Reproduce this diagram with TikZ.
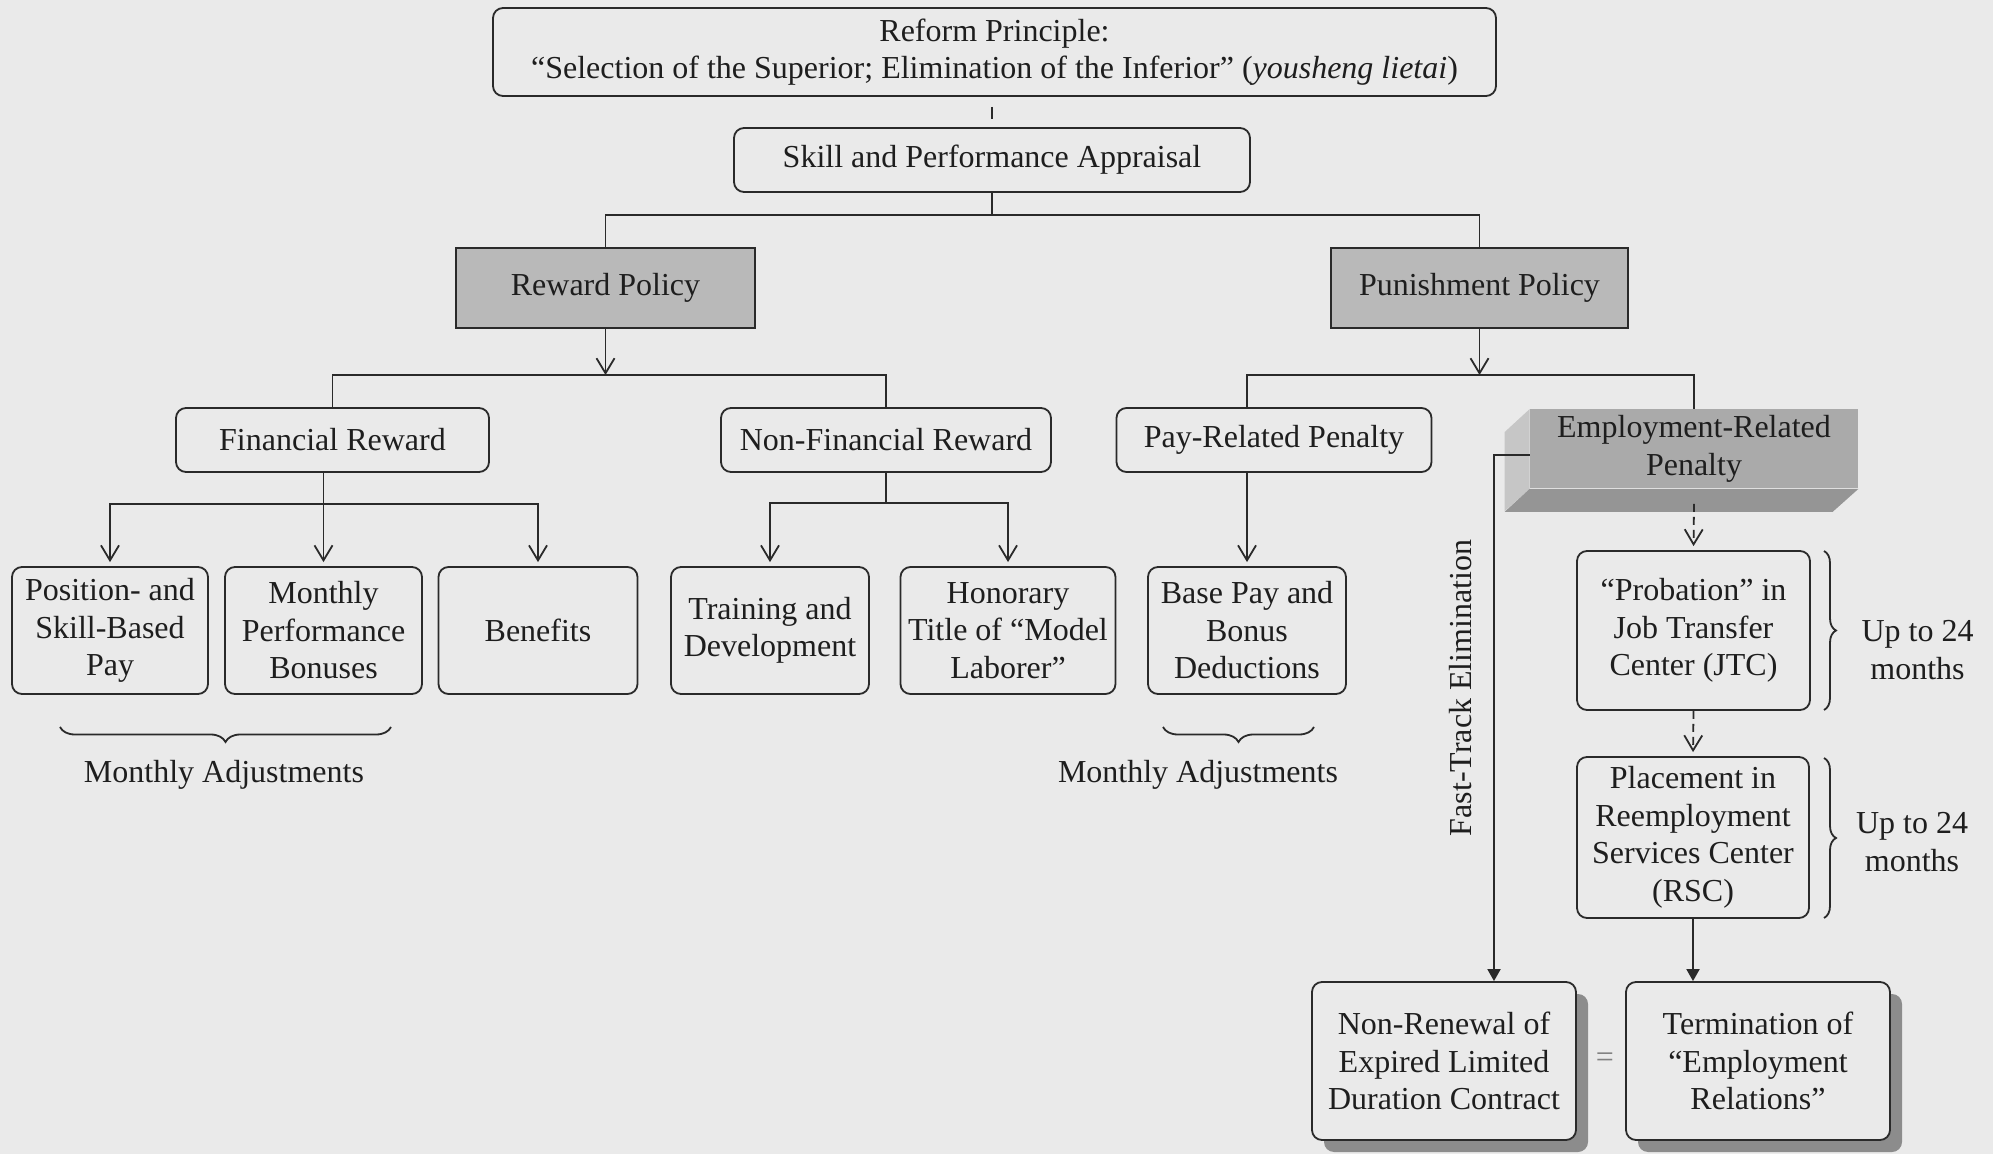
\documentclass[tikz,border=0pt]{standalone}
\usepackage{fontspec}
\setmainfont{Liberation Serif}
\usetikzlibrary{arrows.meta,calc,shadows,decorations.pathreplacing}

\definecolor{bgcol}{HTML}{EAEAEA}
\definecolor{linecol}{HTML}{2A2A2A}
\definecolor{txtcol}{HTML}{1E1E1E}
\definecolor{polfill}{HTML}{B9B9B9}
\definecolor{empfill}{HTML}{AAAAAA}
\definecolor{extrfill}{HTML}{959595}
\definecolor{sidefill}{HTML}{C6C6C6}
\definecolor{shadecol}{HTML}{8C8C8C}

\begin{document}
\begin{tikzpicture}[
    x=0.5pt, y=-0.5pt,
    >={Straight Barb[length=7.5pt,width=9pt]},
    font=\fontsize{16}{18.75}\selectfont,
    box/.style={draw=linecol,line width=0.9pt,rounded corners=5pt,align=center,
                inner sep=0pt,text=txtcol},
    leaf/.style={box,minimum height=63.5pt},
    policy/.style={draw=linecol,line width=0.9pt,fill=polfill,minimum height=40pt,
                   inner sep=0pt,text=txtcol},
    shadowed/.style={box,fill=bgcol,minimum width=132pt,minimum height=79pt,
                     drop shadow={shadow xshift=6pt,shadow yshift=-6pt,fill=shadecol,opacity=1}},
    link/.style={draw=linecol,line width=0.9pt},
    bigtip/.style={link,-{Triangle[length=6pt,width=6.5pt]}},
    phase/.style={link,->,dash pattern=on 4pt off 2.5pt},
    bracebelow/.style={link,decorate,decoration={brace,mirror,amplitude=7.5pt}},
    braceright/.style={link,decorate,decoration={brace,amplitude=6pt}},
  ]

  % page and background
  \useasboundingbox (0,0) rectangle (1993,1154);
  \fill[bgcol] (0,0) rectangle (1993,1154);

  % --- principle and appraisal ---
  \node[box,minimum width=501.5pt,minimum height=44pt] (prin) at (994.5,52)
    {Reform Principle:\\“Selection of the Superior; Elimination of the Inferior” (\textit{yousheng lietai})};
  \node[box,minimum width=258pt,minimum height=32pt] (skill) at (992,160)
    {Skill and Performance Appraisal};
  \draw[link,shorten <=5pt,shorten >=4pt] (prin.south -| skill.north) -- (skill.north);

  % --- the two policies ---
  \node[policy,minimum width=149.5pt] (rew) at (605.5,288)  {Reward Policy};
  \node[policy,minimum width=148.5pt] (pun) at (1479.5,288) {Punishment Policy};
  \coordinate (b1) at (992,215);
  \draw[link] (skill.south) -- (b1);
  \draw[link] (rew.north) |- (b1) -| (pun.north);

  % --- second level ---
  \node[box,minimum width=156.5pt,minimum height=32pt] (fin)    at (332.5,440) {Financial Reward};
  \node[box,minimum width=165pt,minimum height=32pt]   (nonfin) at (886,440)   {Non-Financial Reward};
  \node[box,minimum width=157.5pt,minimum height=32pt] (payrel) at (1274,440)  {Pay-Related Penalty};

  % employment-related penalty, drawn as a raised slab
  \node[fill=empfill,minimum width=164pt,minimum height=39.5pt,inner sep=0pt,
        align=center,text=txtcol] (emp) at (1694,449) {Employment-Related\\Penalty};
  \fill[sidefill] (emp.north west) -- ++(-25,23) -- ++(0,79) -- (emp.south west) -- cycle;
  \fill[extrfill] (emp.south west) -- ++(-25,23) -- ++(328,0) -- (emp.south east) -- cycle;

  % --- third level ---
  \node[leaf,minimum width=98pt]    (pos)   at (110,630.5)  {Position- and\\Skill-Based\\Pay};
  \node[leaf,minimum width=98.5pt]  (mon)   at (323.5,630.5){Monthly\\Performance\\Bonuses};
  \node[leaf,minimum width=99.5pt]  (ben)   at (538,630.5)  {Benefits};
  \node[leaf,minimum width=99pt]    (train) at (770,630.5)  {Training and\\Development};
  \node[leaf,minimum width=107.5pt] (hon)   at (1008,630.5) {Honorary\\Title of “Model\\Laborer”};
  \node[leaf,minimum width=99pt]    (base)  at (1247,630.5) {Base Pay and\\Bonus\\Deductions};

  % --- employment chain ---
  \node[box,minimum width=116.5pt,minimum height=79.5pt] (prob) at (1693.5,630.5)
    {“Probation” in\\Job Transfer\\Center (JTC)};
  \node[box,minimum width=116pt,minimum height=80.5pt] (rsc) at (1693,837.5)
    {Placement in\\Reemployment\\Services Center\\(RSC)};
  \node[shadowed] (nonren) at (1444,1061) {Non-Renewal of\\Expired Limited\\Duration Contract};
  \node[shadowed] (term)   at (1758,1061) {Termination of\\“Employment\\Relations”};
  \node[text=gray] (eq) at (1605,1060) {=};

  % --- policy arrows and buses ---
  \coordinate (b2) at (605.5,375);
  \coordinate (b3) at (1479.5,375);
  \draw[link,->] (rew.south) -- (b2);
  \draw[link,->] (pun.south) -- (b3);
  \draw[link] (fin.north) |- (b2) -| (nonfin.north);
  \draw[link] (payrel.north -| base.north) |- (b3) -| (emp.north);

  % financial reward children
  \coordinate (fb) at (323.5,504);
  \draw[link,->,shorten >=2pt] (fin.south -| mon.north) -- (mon.north);
  \draw[link,->,shorten >=2pt] (fb) -| (pos.north);
  \draw[link,->,shorten >=2pt] (fb) -| (ben.north);

  % non-financial reward children
  \coordinate (nb) at (886,503);
  \draw[link] (nonfin.south) -- (nb);
  \draw[link,->,shorten >=2pt] (nb) -| (train.north);
  \draw[link,->,shorten >=2pt] (nb) -| (hon.north);

  % pay-related penalty child
  \draw[link,->,shorten >=2pt] (payrel.south -| base.north) -- (base.north);

  % employment chain arrows
  \draw[phase,shorten >=2pt] ($(emp.south)+(0,15)$) -- (prob.north);
  \draw[phase,shorten >=2pt] (prob.south) -- (rsc.north);
  \draw[bigtip] (rsc.south) -- (rsc.south |- term.north);

  % fast-track route
  \coordinate (ftc) at (1494,455);
  \draw[bigtip] ($(emp.west)+(0,6)$) -- (ftc) -- (ftc |- nonren.north);
  \node[rotate=90,text=txtcol] (ftlab) at (1461,688) {Fast-Track Elimination};

  % --- braces and their notes ---
  \draw[bracebelow] (60,727) -- (391,727);
  \node[text=txtcol] (adj1) at (224,775) {Monthly Adjustments};
  \draw[bracebelow] (1163,727) -- (1314,727);
  \node[text=txtcol] (adj2) at (1198,775) {Monthly Adjustments};
  \draw[braceright] (1824,551) -- (1824,710);
  \node[text=txtcol,align=center] (dur1) at (1917.5,650) {Up to 24\\months};
  \draw[braceright] (1824,758) -- (1824,918);
  \node[text=txtcol,align=center] (dur2) at (1912,842) {Up to 24\\months};

\end{tikzpicture}
\end{document}
